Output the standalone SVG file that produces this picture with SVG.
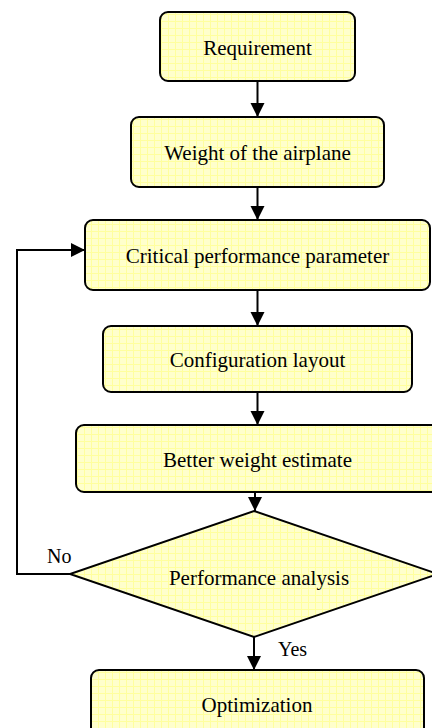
<svg xmlns="http://www.w3.org/2000/svg" width="432" height="728" viewBox="0 0 432 728">
<defs>
<pattern id="grid" width="7" height="7" patternUnits="userSpaceOnUse">
<rect width="7" height="7" fill="#FFFFCC"/>
<path d="M0 0.5H7M0.5 0V7" stroke="#FFFF9E" stroke-width="1" fill="none"/>
</pattern>
<marker id="arr" markerWidth="16" markerHeight="16" refX="14" refY="7" orient="auto" markerUnits="userSpaceOnUse">
<path d="M0 0L14 7L0 14Z" fill="#000"/>
</marker>
<style>
.box{fill:url(#grid);stroke:#000;stroke-width:2}
.t{font-family:"Liberation Serif","Times New Roman",serif;font-size:21px;fill:#000;text-anchor:middle}
.l{font-family:"Liberation Serif","Times New Roman",serif;font-size:20px;fill:#000}
.c{fill:none;stroke:#000;stroke-width:2;marker-end:url(#arr)}
</style>
</defs>
<g id="connectors">
<path class="c" d="M257.5 81V117"/>
<path class="c" d="M257.5 187V220"/>
<path class="c" d="M257.5 290V326"/>
<path class="c" d="M257.5 392V425"/>
<path class="c" d="M255 492V511"/>
<path class="c" d="M254 637V670"/>
<path class="c" d="M70 574H17V250H85"/>
<text class="l" x="47" y="563">No</text>
<text class="l" x="278" y="656">Yes</text>
</g>
<g id="requirement">
<rect class="box" x="160" y="12" width="195" height="69" rx="8"/>
<text class="t" x="257.5" y="55">Requirement</text>
</g>
<g id="weight">
<rect class="box" x="131" y="117" width="253" height="70" rx="8"/>
<text class="t" x="257.5" y="160">Weight of the airplane</text>
</g>
<g id="critical">
<rect class="box" x="85" y="220" width="345" height="70" rx="8"/>
<text class="t" x="257.5" y="263">Critical performance parameter</text>
</g>
<g id="config">
<rect class="box" x="103" y="326" width="309" height="66" rx="8"/>
<text class="t" x="257.5" y="367">Configuration layout</text>
</g>
<g id="better">
<rect class="box" x="76" y="425" width="363" height="67" rx="8"/>
<text class="t" x="257.5" y="467">Better weight estimate</text>
</g>
<g id="analysis">
<polygon class="box" points="254,511 438,574 254,637 70,574"/>
<text class="t" x="259" y="585">Performance analysis</text>
</g>
<g id="optimization">
<rect class="box" x="91" y="670" width="333" height="70" rx="8"/>
<text class="t" x="257" y="712">Optimization</text>
</g>
</svg>
